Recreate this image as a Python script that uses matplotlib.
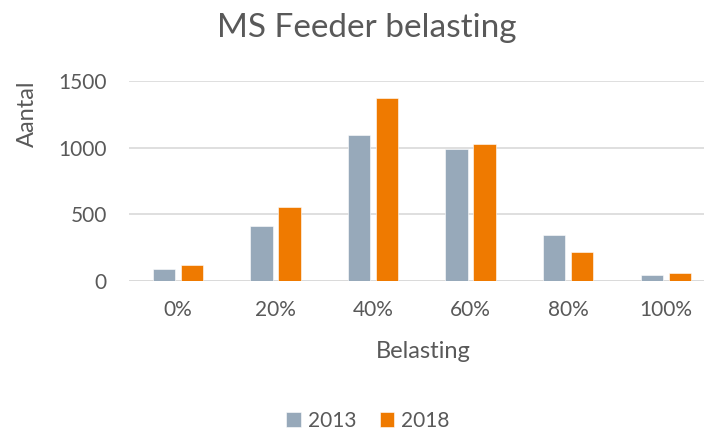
import matplotlib

matplotlib.use("Agg")
import matplotlib.pyplot as plt
import numpy as np

categories = ["0%", "20%", "40%", "60%", "80%", "100%"]
series_2013 = [85, 410, 1095, 990, 345, 40]
series_2018 = [120, 555, 1370, 1030, 215, 58]
series_names = ["2013", "2018"]
y_ticks = [0, 500, 1000, 1500]

COLOR_2013 = "#97A9BA"
COLOR_2018 = "#EF7A00"
TEXT = "#595959"
GRID = "#D9D9D9"

plt.rcParams["font.family"] = ["Lato", "DejaVu Sans"]

W, H = 704, 430
fig = plt.figure(figsize=(W / 100, H / 100), dpi=100)

# plot area in pixels (gridlines run off the right edge of the picture)
left, right_px, top, bottom = 129, 704, 81, 280.7
step = 97.6
ax = fig.add_axes([left / W, (H - bottom) / H, (right_px - left) / W, (bottom - top) / H])

x = np.arange(len(categories))
bw = 0.23
off = 0.143
ax.bar(x - off, series_2013, bw, color=COLOR_2013, edgecolor="white", linewidth=0.4, label=series_names[0], zorder=3)
ax.bar(x + off, series_2018, bw, color=COLOR_2018, edgecolor="white", linewidth=0.4, label=series_names[1], zorder=3)

ax.set_xlim(-0.5, (right_px - left) / step - 0.5)
ax.set_ylim(0, 1500)
ax.set_yticks(y_ticks)
ax.set_yticklabels([str(v) for v in y_ticks])
ax.set_xticks(x)
ax.set_xticklabels(categories)
ax.grid(True, axis="y", color=GRID, linewidth=1.2, zorder=0)
for s in ax.spines.values():
    s.set_visible(False)
ax.axhline(0, color=GRID, linewidth=1.2, zorder=2)
ax.tick_params(axis="both", length=0, colors=TEXT, labelsize=15)
ax.tick_params(axis="x", pad=14)
ax.tick_params(axis="y", pad=16)

fig.text(367 / W, 1 - 28 / H, "MS Feeder belasting", ha="center", va="center", fontsize=24, color=TEXT)
fig.text(423 / W, 1 - 352 / H, "Belasting", ha="center", va="center", fontsize=17, color=TEXT)
fig.text(27 / W, 1 - 114 / H, "Aantal", ha="center", va="center", rotation=90, fontsize=17, color=TEXT)

handles, labels = ax.get_legend_handles_labels()
fig.legend(handles, labels, loc="center", bbox_to_anchor=(368 / W, 1 - 421 / H), ncol=2, frameon=False,
           fontsize=15, labelcolor=TEXT, handlelength=0.7, handleheight=0.7, handletextpad=0.35,
           columnspacing=1.1)

fig.savefig("out.png", dpi=100)
